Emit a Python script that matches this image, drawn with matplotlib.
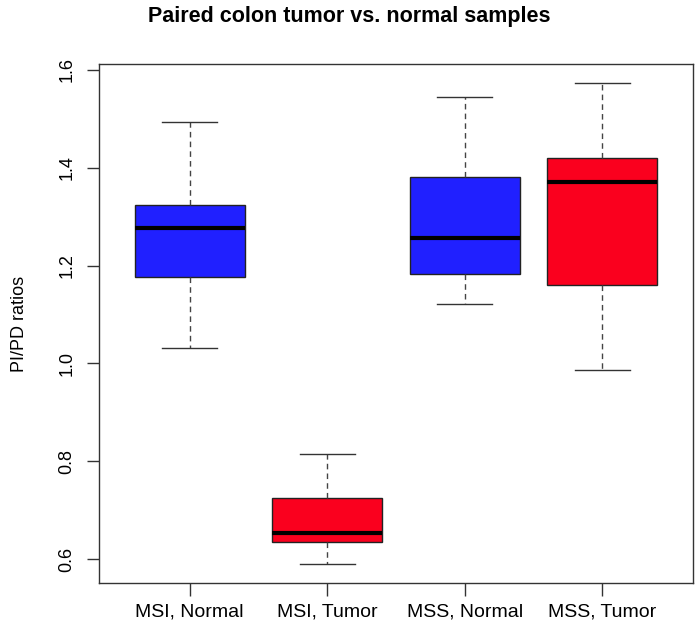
import matplotlib.pyplot as plt
import numpy as np

groups = ['MSI, Normal', 'MSI, Tumor', 'MSS, Normal', 'MSS, Tumor']
lower_whisker = [1.031, 0.590, 1.122, 0.986]
q1 = [1.176, 0.635, 1.182, 1.160]
median = [1.277, 0.653, 1.256, 1.371]
q3 = [1.324, 0.724, 1.381, 1.419]
upper_whisker = [1.494, 0.815, 1.545, 1.573]
box_colors = ['#2020ff', '#fa001e', '#2020ff', '#fa001e']

stats = []
for i in range(len(groups)):
    stats.append({'label': groups[i], 'whislo': lower_whisker[i], 'q1': q1[i],
                  'med': median[i], 'q3': q3[i], 'whishi': upper_whisker[i],
                  'fliers': []})

plt.rcParams['font.family'] = ['Liberation Sans', 'DejaVu Sans']

fig = plt.figure(figsize=(6.99, 6.35), dpi=100)
ax = fig.add_axes([0.1416, 0.0819, 0.8498, 0.8173])

bp = ax.bxp(stats, positions=np.arange(1, 5), widths=0.8, patch_artist=True,
            showfliers=False, capwidths=0.4,
            boxprops=dict(edgecolor='#222222', linewidth=1.0),
            medianprops=dict(color='black', linewidth=3.0, solid_capstyle='butt'),
            whiskerprops=dict(color='#444444', linewidth=1.0, linestyle=(0, (4, 3))),
            capprops=dict(color='#333333', linewidth=1.0))
for patch, c in zip(bp['boxes'], box_colors):
    patch.set_facecolor(c)

ax.set_xlim(0.34, 4.66)
ax.set_ylim(0.551, 1.612)
ax.set_yticks([0.6, 0.8, 1.0, 1.2, 1.4, 1.6])
ax.set_yticklabels(['0.6', '0.8', '1.0', '1.2', '1.4', '1.6'], rotation=90, va='center')
ax.set_xticks(np.arange(1, 5))
ax.set_xticklabels(groups)
ax.tick_params(axis='both', length=9, width=1, color='#333333')
ax.tick_params(axis='y', labelsize=13, pad=8)
ax.tick_params(axis='x', labelsize=14, pad=6)

for s in ax.spines.values():
    s.set_color('#333333')
    s.set_linewidth(1.0)

ax.set_ylabel('PI/PD ratios', fontsize=13, labelpad=22)
fig.suptitle('Paired colon tumor vs. normal samples', fontsize=15.5, fontweight='bold',
             x=0.5, y=0.99)

plt.savefig('out.png', dpi=100)
